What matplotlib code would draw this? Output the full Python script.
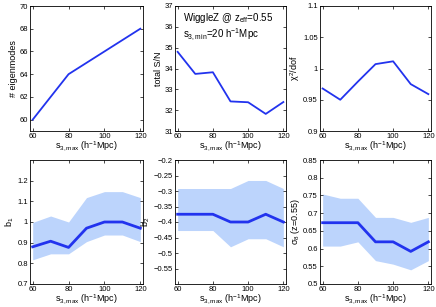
import numpy as np
import matplotlib
matplotlib.use("Agg")
import matplotlib.pyplot as plt

plt.rcParams['font.family'] = ['Liberation Sans', 'DejaVu Sans']
plt.rcParams['mathtext.fontset'] = 'custom'
plt.rcParams['mathtext.rm'] = 'Liberation Sans'
plt.rcParams['mathtext.it'] = 'Liberation Sans'

# data
s3max = [60, 70, 80, 90, 100, 110, 120]
s3max_modes = [60, 80, 120]
n_modes = [60, 64, 68]
total_sn = [34.8, 33.74, 33.82, 32.42, 32.38, 31.82, 32.39]
chi2_dof = [0.968, 0.950, 0.979, 1.007, 1.0115, 0.975, 0.959]

b1 = [0.88, 0.907, 0.877, 0.97, 1.0, 1.0, 0.97]
b1_lo = [0.817, 0.846, 0.846, 0.905, 0.937, 0.937, 0.905]
b1_hi = [0.998, 1.029, 1.0, 1.118, 1.147, 1.147, 1.118]

b2 = [-0.375, -0.375, -0.375, -0.40, -0.40, -0.375, -0.40]
b2_lo = [-0.4275, -0.4275, -0.4275, -0.48, -0.454, -0.454, -0.48]
b2_hi = [-0.292, -0.292, -0.292, -0.292, -0.266, -0.266, -0.292]

sig8 = [0.673, 0.673, 0.673, 0.619, 0.619, 0.592, 0.619]
sig8_lo = [0.607, 0.607, 0.619, 0.566, 0.556, 0.540, 0.566]
sig8_hi = [0.754, 0.742, 0.742, 0.688, 0.688, 0.674, 0.688]

line_col = '#2233ee'
band_col = '#bcd4fc'
fs = 5.5
W, H = 436, 307

fig = plt.figure(figsize=(4.36, 3.07), dpi=100)

def make_ax(l, t, r, b):
    return fig.add_axes([l / W, 1 - b / H, (r - l) / W, (b - t) / H])

cols = [(30, 143), (175, 286), (320, 431)]
top_row = (6, 131)
bot_row = (160, 284)

xlab = r'$\mathrm{s}_{3,\mathrm{max}}$ (h$^{-1}$Mpc)'

def style(ax, ylim, yticks, yticklabels, ylabel):
    ax.set_xlim(58.5, 121.5)
    ax.set_xticks([60, 80, 100, 120])
    ax.set_ylim(*ylim)
    ax.set_yticks(yticks)
    ax.set_yticklabels(yticklabels)
    ax.tick_params(direction='in', length=2, width=0.5, labelsize=fs,
                   top=True, right=True, pad=1.5)
    for sp in ax.spines.values():
        sp.set_linewidth(0.6)
    ax.set_xlabel(xlab, fontsize=fs + 1, labelpad=0)
    ax.set_ylabel(ylabel, fontsize=fs + 1, labelpad=1)

# top row
ax = make_ax(cols[0][0], top_row[0], cols[0][1], top_row[1])
ax.plot(s3max_modes, n_modes, color=line_col, lw=1.3)
style(ax, (59, 70), [60, 62, 64, 66, 68, 70], ['60', '62', '64', '66', '68', '70'], '# eigenmodes')

ax = make_ax(cols[1][0], top_row[0], cols[1][1], top_row[1])
ax.plot(s3max, total_sn, color=line_col, lw=1.3)
style(ax, (31, 37), [31, 32, 33, 34, 35, 36, 37],
      ['31', '32', '33', '34', '35', '36', '37'], 'total S/N')
ax.text(0.07, 0.96, r'WiggleZ @ z$_{\mathrm{eff}}$=0.55', transform=ax.transAxes,
        fontsize=fs + 1.5, va='top')
ax.text(0.07, 0.83, r's$_{3,\mathrm{min}}$=20 h$^{-1}$Mpc', transform=ax.transAxes,
        fontsize=fs + 1.5, va='top')

ax = make_ax(cols[2][0], top_row[0], cols[2][1], top_row[1])
ax.plot(s3max, chi2_dof, color=line_col, lw=1.3)
style(ax, (0.9, 1.1), [0.9, 0.95, 1.0, 1.05, 1.1],
      ['0.9', '0.95', '1', '1.05', '1.1'], r'$\chi^2$/dof')

# bottom row
ax = make_ax(cols[0][0], bot_row[0], cols[0][1], bot_row[1])
ax.fill_between(s3max, b1_lo, b1_hi, color=band_col, lw=0)
ax.plot(s3max, b1, color=line_col, lw=2)
style(ax, (0.7, 1.3), [0.7, 0.8, 0.9, 1.0, 1.1, 1.2],
      ['0.7', '0.8', '0.9', '1', '1.1', '1.2'], r'b$_1$')

ax = make_ax(cols[1][0], bot_row[0], cols[1][1], bot_row[1])
ax.fill_between(s3max, b2_lo, b2_hi, color=band_col, lw=0)
ax.plot(s3max, b2, color=line_col, lw=2)
b2_ticks = [-0.55, -0.5, -0.45, -0.4, -0.35, -0.3, -0.25, -0.2]
style(ax, (-0.6, -0.2), b2_ticks,
      ['\u22120.55', '\u22120.5', '\u22120.45', '\u22120.4', '\u22120.35', '\u22120.3', '\u22120.25', '\u22120.2'],
      r'b$_2$')

ax = make_ax(cols[2][0], bot_row[0], cols[2][1], bot_row[1])
ax.fill_between(s3max, sig8_lo, sig8_hi, color=band_col, lw=0)
ax.plot(s3max, sig8, color=line_col, lw=2)
s8_ticks = [0.5, 0.55, 0.6, 0.65, 0.7, 0.75, 0.8, 0.85]
style(ax, (0.5, 0.85), s8_ticks, [str(t) for t in s8_ticks], r'$\sigma_8$ (z=0.55)')

fig.savefig('out.png', dpi=100)
